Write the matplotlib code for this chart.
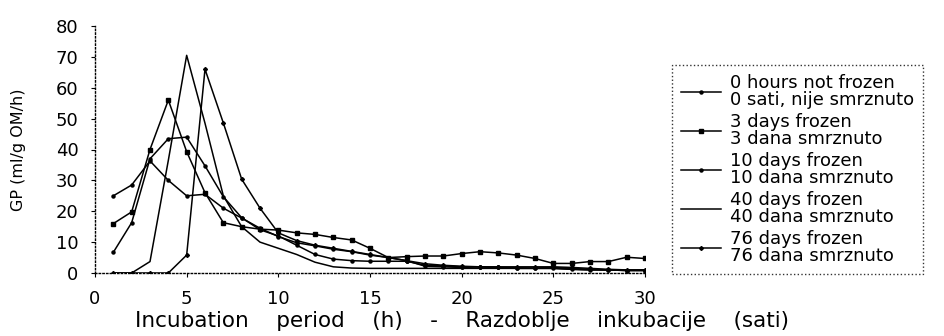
import matplotlib.pyplot as plt

# vrijednosti očitane sa slike
hours = list(range(1, 31))
gp_0h = [25, 28.5, 36.3, 30, 25, 25.5, 21, 17.8, 14.5, 11.8, 9.8, 8.8, 7.7, 6.9, 5.8,
         5.0, 4.0, 2.2, 2.0, 1.8, 2.0, 1.8, 1.7, 1.6, 1.8, 1.5, 1.2, 1.0, 0.8, 0.8]
gp_3d = [16, 19.8, 40, 56, 39.3, 26, 16.3, 15, 14.2, 13.9, 13, 12.5, 11.5, 10.7, 8,
         5, 5.3, 5.5, 5.5, 6.3, 6.9, 6.5, 5.8, 4.7, 3.1, 3.1, 3.7, 3.7, 5.1, 4.7]
gp_10d = [6.7, 16.3, 37, 43.5, 44, 34.7, 24.7, 17.9, 14, 12, 9, 6, 4.5, 4, 3.8,
          3.8, 3.8, 2.5, 2.3, 2.0, 2.0, 1.8, 1.5, 1.5, 1.5, 1.2, 1.0, 1.0, 0.8, 0.8]
gp_40d = [0, 0, 3.7, 36.5, 70.5, 48.5, 25, 15, 10, 8, 6, 3.5, 2, 1.6, 1.5,
          1.5, 1.5, 1.5, 1.5, 1.5, 1.5, 1.5, 1.5, 1.5, 1.5, 1.2, 1.0, 1.0, 1.0, 1.0]
gp_76d = [0, 0, 0, 0, 5.8, 66, 48.6, 30.4, 21, 13, 10.5, 9, 8, 7, 6,
          5, 4, 3, 2.5, 2.2, 2, 2, 2, 2, 2, 1.8, 1.5, 1.2, 1.0, 1.0]

labels = ['0 hours not frozen\n0 sati, nije smrznuto',
          '3 days frozen\n3 dana smrznuto',
          '10 days frozen\n10 dana smrznuto',
          '40 days frozen\n40 dana smrznuto',
          '76 days frozen\n76 dana smrznuto']

plt.rcParams['font.family'] = ['DejaVu Sans']

fig = plt.figure(figsize=(9.45, 3.36), dpi=100)
ax = fig.add_axes([95 / 945, 63 / 336, 550 / 945, 247 / 336])

series = [gp_0h, gp_3d, gp_10d, gp_40d, gp_76d]
markers = ['o', 's', 'o', '', 'D']
sizes = [2.2, 2.2, 2.2, 0, 2.0]
for vals, lab, m, ms in zip(series, labels, markers, sizes):
    ax.plot(hours, vals, color='black', lw=1.1, marker=m, markersize=ms, label=lab)

ax.set_xlim(0, 30)
ax.set_ylim(0, 80)
ax.set_xticks(range(0, 31, 5))
ax.set_yticks(range(0, 81, 10))
for side in ['top', 'right']:
    ax.spines[side].set_visible(False)
for side in ['left', 'bottom']:
    ax.spines[side].set_linestyle(':')
    ax.spines[side].set_linewidth(1)
ax.tick_params(length=3, width=0.8, pad=9, labelsize=13)

ax.set_xlabel('Incubation    period    (h)    -    Razdoblje    inkubacije    (sati)', fontsize=15.5)
ax.xaxis.set_label_coords((462 - 95) / 550, -0.155)
ax.set_ylabel('GP (ml/g OM/h)', fontsize=11.5)
ax.yaxis.set_label_coords(-0.125, 0.5)

leg = fig.legend(loc='upper left', bbox_to_anchor=(672 / 945, 1 - 65 / 336),
                 fontsize=13, frameon=True, fancybox=False, labelspacing=0.2,
                 handlelength=2.2, handletextpad=0.5, borderpad=0.5,
                 borderaxespad=0)
for t in leg.get_texts():
    t.set_linespacing(0.95)
leg.get_frame().set_edgecolor('black')
leg.get_frame().set_linestyle(':')
leg.get_frame().set_linewidth(1)

fig.savefig('out.png', dpi=100)
